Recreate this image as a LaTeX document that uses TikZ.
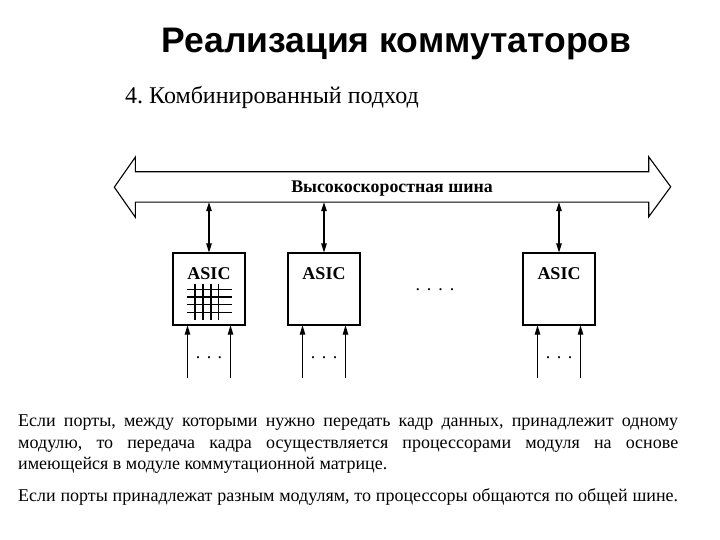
\documentclass[tikz,border=0pt]{standalone}
\usepackage{fontspec}
\setmainfont{Liberation Serif}
\newfontfamily\headfont{Liberation Sans}
\usetikzlibrary{arrows.meta,positioning}
\frenchspacing

\begin{document}
\begin{tikzpicture}[x=1pt,y=-1pt,
      asic/.style={draw,line width=1.1pt,minimum width=72pt,minimum height=72pt,inner sep=0pt},
      asiclbl/.style={font=\bfseries\fontsize{18}{18}\selectfont,inner sep=0pt},
      dots/.style={font=\fontsize{18}{18}\selectfont,inner sep=0pt},
      busline/.style={line width=1.1pt,line join=miter},
      arr/.style={->,>={Triangle[length=9pt,width=5.5pt]},line width=1.1pt},
      grid/.style={line width=1.1pt},
    ]
    \useasboundingbox (0,0) rectangle (720,540);
    % Headings
    \node[font=\headfont\bfseries\fontsize{35.5}{38}\selectfont,anchor=base] (title) at (396.5,53) {Реализация коммутаторов};
    \node[font=\fontsize{24}{27}\selectfont,anchor=base west,inner sep=0pt] (sub) at (125,104) {4. Комбинированный подход};
    % Bus
    \node[minimum width=513pt,minimum height=30pt,inner sep=0pt,text height=12pt,text depth=0pt,
          font=\bfseries\fontsize{17.8}{18}\selectfont] (bus) at (392,187) {Высокоскоростная шина};
    \draw[busline] (bus.north west) -- (bus.north east) -- ++(0,-15) -- ++(22,30) -- ++(-22,30)
      -- (bus.south east) -- (bus.south west) -- ++(0,15) -- ++(-21,-30) -- ++(21,-30) -- cycle;
    % Modules
    \node[asic] (m1) at (209,289) {};
    \node[asic] (m2) at (324,289) {};
    \node[asic] (m3) at (559,289) {};
    \foreach \m in {m1,m2,m3} {
      \node[asiclbl,below=15pt of \m.north] (\m lbl) {ASIC};
      \node[dots,below=31pt of \m.south] (\m dots) {.\hspace{6.5pt}.\hspace{6.5pt}.};
      \draw[arr,<->] (bus.south -| \m.north) -- (\m.north);
      \foreach \dx in {-21.5,21.5}
        \draw[arr] ([shift={(\dx,52)}]\m.south) -- ([shift={(\dx,0)}]\m.south);
    }
    \node[dots] (gap) at (435,290) {.\hspace{7pt}.\hspace{7pt}.\hspace{7pt}.};
    % switching matrix
    \foreach \y in {289.3,297,304.5,312.3} \draw[grid] (186.5,\y) -- (231.5,\y);
    \foreach \x in {195,203,211,218.5} \draw[grid] (\x,284) -- (\x,319.5);
    % Notes
    \node[anchor=north west,inner sep=0pt,text width=660pt,align=justify,
          font=\fontsize{18}{21.5}\selectfont] (note) at (18,415)
      {Если порты, между которыми нужно передать кадр данных, принадлежит одному\linebreak
       модулю, то передача кадра осуществляется процессорами модуля на основе\linebreak
       имеющейся в модуле коммутационной матрице.\par\vspace{10.5pt}
       {\parfillskip=0pt Если порты принадлежат разным модулям, то процессоры общаются по общей шине.\par}};
  \end{tikzpicture}
\end{document}
